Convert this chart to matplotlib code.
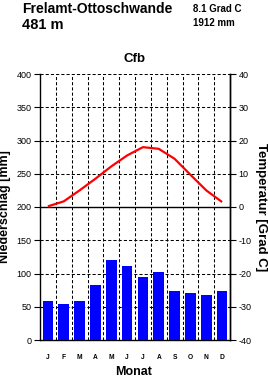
import matplotlib
matplotlib.use("Agg")
import matplotlib.pyplot as plt
import numpy as np

months = ["J", "F", "M", "A", "M", "J", "J", "A", "S", "O", "N", "D"]
precip = [59, 54, 59, 82, 121, 111, 95, 103, 74, 70, 67, 74]
temp = [0.2, 1.7, 5.0, 8.5, 12.2, 15.5, 18.0, 17.5, 14.5, 9.7, 5.0, 1.5]
left_ticks = [0, 50, 100, 150, 200, 250, 300, 350, 400]
right_labels = ["-40", "-30", "-20", "-10", "0", "10", "20", "30", "40"]

station = "Frelamt-Ottoschwande"
elevation = "481 m"
mean_temp = "8.1 Grad C"
total_precip = "1912 mm"
climate = "Cfb"

plt.rcParams['font.family'] = ['Liberation Sans', 'DejaVu Sans']

W, H = 268, 382
fig = plt.figure(figsize=(W / 100, H / 100), dpi=100)
ax = fig.add_axes([40 / W, (H - 340) / H, 190 / W, 266 / H])

x = np.arange(1, 13)
ax.set_xlim(0.5, 12.5)
ax.set_ylim(0, 400)

# grid
for v in left_ticks[1:]:
    if v == 200:
        continue
    ax.axhline(v, color='black', lw=0.75, ls=(0, (3, 2)), zorder=1)
for b in np.arange(1.5, 12.5, 1.0):
    ax.axvline(b, color='black', lw=0.75, ls=(0, (3, 2)), zorder=1)
ax.axhline(200, color='black', lw=1.0, zorder=2)

ax.bar(x, precip, width=0.68, color='#0000ff', zorder=3)
ax.plot(x, [200 + 5 * t for t in temp], color='#ff0000', lw=1.6, zorder=4,
        solid_capstyle='butt')

ax.spines['top'].set_visible(False)
for s in ['left', 'right', 'bottom']:
    ax.spines[s].set_linewidth(1.0)

ax.set_yticks(left_ticks)
ax.set_yticklabels([str(v) for v in left_ticks], fontsize=6.5)
ax.tick_params(axis='y', length=4, width=0.8, pad=2, left=True, right=True,
               labelleft=True, labelright=False, direction='out')

ax2 = ax.twinx()
ax2.set_ylim(0, 400)
ax2.set_yticks(left_ticks)
ax2.set_yticklabels(right_labels, fontsize=6.5)
ax2.tick_params(axis='y', length=4, width=0.8, pad=2)
for s in ['top', 'left', 'bottom']:
    ax2.spines[s].set_visible(False)
ax2.spines['right'].set_linewidth(1.0)

ax.set_xticks(x)
ax.set_xticklabels(months, fontsize=4.8, fontweight='bold')
ax.tick_params(axis='x', length=0, pad=10)

ax.set_ylabel("Niederschlag [mm]", fontsize=9, fontweight='bold', labelpad=4)
ax2.set_ylabel("Temperatur [Grad C]", fontsize=9.5, fontweight='bold',
               rotation=270, labelpad=11)

fig.text(22 / W, 1 - 9 / H, station, fontsize=10, fontweight='bold',
         ha='left', va='center')
fig.text(22 / W, 1 - 25 / H, elevation, fontsize=10.5, fontweight='bold',
         ha='left', va='center')
fig.text(193 / W, 1 - 9 / H, mean_temp, fontsize=7, fontweight='bold',
         ha='left', va='center')
fig.text(193 / W, 1 - 23 / H, total_precip, fontsize=7, fontweight='bold',
         ha='left', va='center')
fig.text(134 / W, 1 - 59 / H, climate, fontsize=9.5, fontweight='bold',
         ha='center', va='center')
fig.text(134 / W, 1 - 372 / H, "Monat", fontsize=9, fontweight='bold',
         ha='center', va='center')

fig.savefig("out.png", dpi=100)
